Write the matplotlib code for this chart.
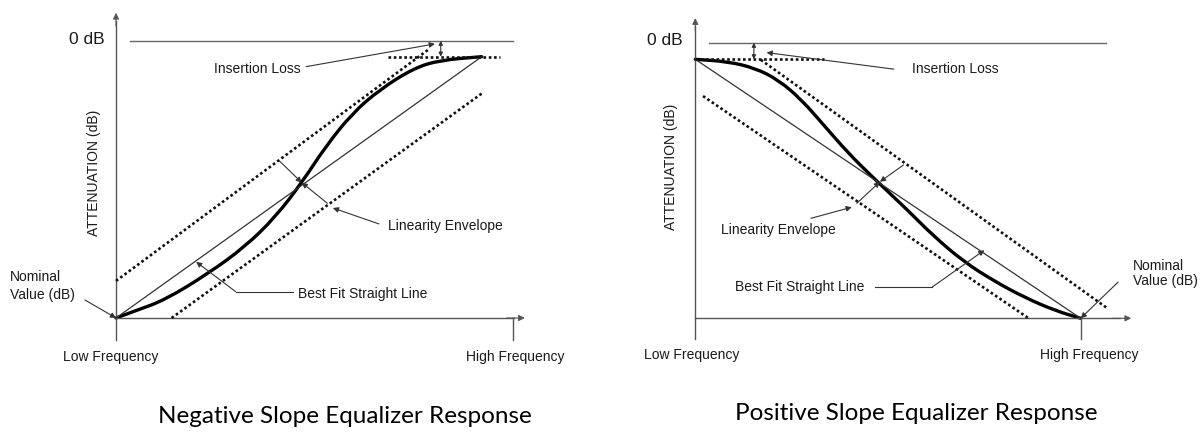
import matplotlib.pyplot as plt
import numpy as np
from matplotlib.path import Path
from matplotlib.patches import PathPatch

# frequency runs 0 (low) -> 1 (high), level runs 0 (nominal) -> 1 (insertion loss level)
# negative slope equalizer (left)
neg_freq = [0, 0.052, 0.134, 0.253, 0.353, 0.437, 0.510, 0.573, 0.646, 0.720, 0.814, 0.887, 1.0]
neg_resp = [0, 0.027, 0.069, 0.171, 0.273, 0.388, 0.522, 0.656, 0.783, 0.873, 0.956, 0.987, 1.0]
neg_fit = [[0, 0], [1, 1]]
neg_env_upper = [[0, 0.142], [0.853, 1.026]]
neg_env_lower = [[0.152, 0.0], [1.003, 0.862]]
neg_zero_db = 1.061

# positive slope equalizer (right)
pos_freq = [0, 0.085, 0.155, 0.215, 0.275, 0.335, 0.395, 0.455, 0.555, 0.615, 0.695, 0.775, 0.855, 0.935, 1.0]
pos_resp = [1.0, 0.991, 0.966, 0.921, 0.845, 0.743, 0.641, 0.552, 0.412, 0.322, 0.220, 0.144, 0.080, 0.029, 0]
pos_fit = [[0, 1], [1, 0]]
pos_env_upper = [[0.170, 0.998], [1.066, 0.042]]
pos_env_lower = [[0.020, 0.858], [0.865, 0.0]]
pos_zero_db = 1.064

TXT = '#1a1a1a'
AXC = '#555555'
LAB = dict(fontsize=10, color=TXT, family='Liberation Sans')


def arrow(ax, start, end, style='-|>', lw=0.8, ms=8, color='#333333'):
    ax.annotate('', xy=end, xytext=start,
                arrowprops=dict(arrowstyle=style, lw=lw, color=color,
                                mutation_scale=ms, shrinkA=0, shrinkB=0))


def smooth_curve(ax, xs, ys):
    # read points used as quadratic control points -> smooth drawn response
    pts = np.column_stack([xs, ys])
    verts = [pts[0], (pts[0] + pts[1]) / 2]
    codes = [Path.MOVETO, Path.LINETO]
    for i in range(1, len(pts) - 1):
        verts += [pts[i], (pts[i] + pts[i + 1]) / 2]
        codes += [Path.CURVE3, Path.CURVE3]
    verts.append(pts[-1])
    codes.append(Path.LINETO)
    ax.add_patch(PathPatch(Path(verts, codes), fill=False, edgecolor='black',
                           lw=2.4, joinstyle='round', capstyle='round'))


def frame(ax, ytop, ybot, xtip, xtick, zero_db, zero_x):
    ax.plot([0, 0], [ybot, ytop - 0.03], color=AXC, lw=1)
    arrow(ax, (0, ytop - 0.05), (0, ytop), color=AXC, ms=9)
    ax.plot([0, xtip - 0.03], [0, 0], color=AXC, lw=1)
    arrow(ax, (xtip - 0.05, 0), (xtip, 0), color=AXC, ms=9)
    ax.plot([xtick, xtick], [0, ybot], color=AXC, lw=1)
    ax.plot(zero_x, [zero_db, zero_db], color='#666666', lw=1)


def dotted(ax, pts):
    pts = np.array(pts)
    ax.plot(pts[:, 0], pts[:, 1], color='#111111', lw=1.9,
            linestyle=(0, (1, 1.0)), dash_capstyle='butt')


fig = plt.figure(figsize=(12.03, 4.32), dpi=100)

# ---------------- left panel ----------------
ax1 = fig.add_axes([0, 0, 601 / 1203, 1])
ax1.set_xlim(-0.3172, 1.3262)
ax1.set_ylim(-0.4363, 1.2170)
ax1.axis('off')

frame(ax1, 1.168, -0.084, 1.118, 1.086, neg_zero_db, [0.038, 1.085])
ax1.plot(*np.array(neg_fit).T, color='#333333', lw=0.9)
dotted(ax1, neg_env_upper)
dotted(ax1, neg_env_lower)
dotted(ax1, [[0.744, 1.0], [1.050, 1.0]])
smooth_curve(ax1, neg_freq, neg_resp)

arrow(ax1, (0.888, 1.0), (0.888, neg_zero_db), style='<|-|>', ms=6)
arrow(ax1, (0.520, 0.962), (0.872, 1.049))
ax1.text(0.387, 0.953, 'Insertion Loss', ha='center', va='center', **LAB)

arrow(ax1, (0.447, 0.601), (0.508, 0.518))
arrow(ax1, (0.578, 0.439), (0.508, 0.518))
arrow(ax1, (0.719, 0.360), (0.593, 0.421))
ax1.text(0.900, 0.352, 'Linearity Envelope', ha='center', va='center', **LAB)

ax1.plot([0.484, 0.327], [0.101, 0.101], color='#333333', lw=0.8)
arrow(ax1, (0.327, 0.101), (0.219, 0.215))
ax1.text(0.674, 0.092, 'Best Fit Straight Line', ha='center', va='center', **LAB)

arrow(ax1, (-0.085, 0.069), (0, 0))
ax1.text(-0.291, 0.157, 'Nominal', ha='left', va='center', **LAB)
ax1.text(-0.291, 0.088, 'Value (dB)', ha='left', va='center', **LAB)

ax1.text(-0.014, -0.149, 'Low Frequency', ha='center', va='center', **LAB)
ax1.text(1.093, -0.149, 'High Frequency', ha='center', va='center', **LAB)
ax1.text(-0.061, 0.555, 'ATTENUATION (dB)', rotation=90, ha='center', va='center', **LAB)
ax1.text(-0.079, 1.064, '0 dB', ha='center', va='center', fontsize=12.5, color=TXT, family='Liberation Sans')
ax1.text(0.625, -0.378, 'Negative Slope Equalizer Response', ha='center', va='center',
         fontsize=17.5, color='black', family='Lato')

# ---------------- right panel ----------------
ax2 = fig.add_axes([601 / 1203, 0, 602 / 1203, 1])
ax2.set_xlim(-0.2447, 1.3173)
ax2.set_ylim(-0.4390, 1.2290)
ax2.axis('off')

frame(ax2, 1.159, -0.079, 1.131, 1.0, pos_zero_db, [0.036, 1.066])
ax2.plot(*np.array(pos_fit).T, color='#333333', lw=0.9)
dotted(ax2, pos_env_upper)
dotted(ax2, pos_env_lower)
dotted(ax2, [[0, 1.0], [0.335, 1.0]])
smooth_curve(ax2, pos_freq, pos_resp)

arrow(ax2, (0.152, 1.0), (0.152, pos_zero_db), style='<|-|>', ms=6)
arrow(ax2, (0.515, 0.962), (0.185, 1.026))
ax2.text(0.675, 0.962, 'Insertion Loss', ha='center', va='center', **LAB)

arrow(ax2, (0.419, 0.444), (0.479, 0.527))
arrow(ax2, (0.540, 0.592), (0.479, 0.527))
arrow(ax2, (0.300, 0.386), (0.406, 0.429))
ax2.text(0.215, 0.342, 'Linearity Envelope', ha='center', va='center', **LAB)

ax2.plot([0.465, 0.615], [0.121, 0.121], color='#333333', lw=0.8)
arrow(ax2, (0.615, 0.121), (0.750, 0.263))
ax2.text(0.270, 0.121, 'Best Fit Straight Line', ha='center', va='center', **LAB)

arrow(ax2, (1.097, 0.140), (1.0, 0))
ax2.text(1.135, 0.202, 'Nominal', ha='left', va='center', **LAB)
ax2.text(1.135, 0.144, 'Value (dB)', ha='left', va='center', **LAB)

ax2.text(-0.010, -0.142, 'Low Frequency', ha='center', va='center', **LAB)
ax2.text(1.023, -0.142, 'High Frequency', ha='center', va='center', **LAB)
ax2.text(-0.063, 0.584, 'ATTENUATION (dB)', rotation=90, ha='center', va='center', **LAB)
ax2.text(-0.080, 1.072, '0 dB', ha='center', va='center', fontsize=12.5, color=TXT, family='Liberation Sans')
ax2.text(0.572, -0.366, 'Positive Slope Equalizer Response', ha='center', va='center',
         fontsize=17.5, color='black', family='Lato')

fig.savefig('out.png', dpi=100)
